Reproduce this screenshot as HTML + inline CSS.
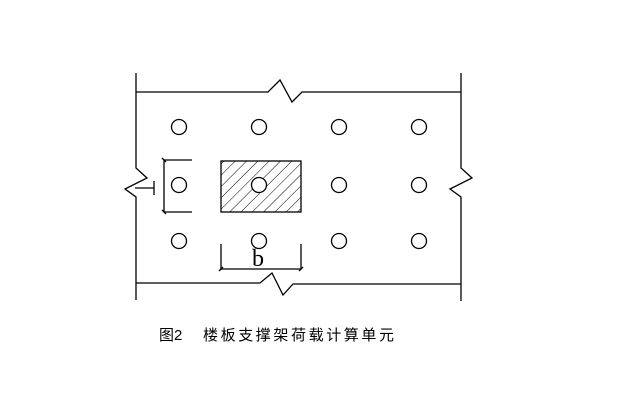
<!DOCTYPE html>
<html><head><meta charset="utf-8"><style>
html,body{margin:0;padding:0;background:#fff;width:644px;height:416px;overflow:hidden}
</style></head><body>
<svg width="644" height="416" viewBox="0 0 644 416" xmlns="http://www.w3.org/2000/svg">
<defs>
<pattern id="h" patternUnits="userSpaceOnUse" width="8" height="8" patternTransform="rotate(45)">
<line x1="0" y1="0" x2="0" y2="8" stroke="#000" stroke-width="1"/>
</pattern>
</defs>
<g stroke="#000" stroke-width="1.3" fill="none">
<polyline points="136,73 136,168 147,178 125,189 136,197 136,300"/>
<polyline points="461,73 461,168 472,178 450,189 461,197 461,301"/>
<polyline points="136,92 268,92 280,80 292,102 302,92 461,92"/>
<polyline points="136,283 260,283 272,273 283,295 293,284 461,284"/>
<rect x="221" y="161" width="80" height="51" fill="url(#h)"/>
<g fill="#fff">
<circle cx="179" cy="127" r="7.5"/><circle cx="259" cy="127" r="7.5"/><circle cx="339" cy="127" r="7.5"/><circle cx="419" cy="127" r="7.5"/>
<circle cx="179" cy="185" r="7.5"/><circle cx="259" cy="185" r="7.5"/><circle cx="339" cy="185" r="7.5"/><circle cx="419" cy="185" r="7.5"/>
<circle cx="179" cy="241" r="7.5"/><circle cx="259" cy="241" r="7.5"/><circle cx="339" cy="241" r="7.5"/><circle cx="419" cy="241" r="7.5"/>
</g>
<line x1="164" y1="160" x2="164" y2="212"/>
<line x1="164" y1="160" x2="192" y2="160"/>
<line x1="164" y1="212" x2="192" y2="212"/>
<line x1="162" y1="158" x2="166" y2="162"/>
<line x1="162" y1="210" x2="166" y2="214"/>
<line x1="135" y1="188" x2="154" y2="188"/>
<line x1="154" y1="181" x2="154" y2="195"/>
<line x1="221" y1="269" x2="301" y2="269"/>
<line x1="221" y1="244" x2="221" y2="269"/>
<line x1="301" y1="244" x2="301" y2="269"/>
<line x1="219" y1="271" x2="223" y2="267"/>
<line x1="299" y1="271" x2="303" y2="267"/>
</g>
<text x="258" y="266" font-family="Liberation Serif, serif" font-size="24" text-anchor="middle" fill="#000">b</text>
<text x="159" y="340" font-family="'Liberation Sans','Noto Sans CJK SC',sans-serif" font-size="15" fill="#000">图2</text>
<text x="203" y="340" font-family="'Liberation Sans','Noto Sans CJK SC',sans-serif" font-size="15" letter-spacing="2.6" fill="#000">楼板支撑架荷载计算单元</text>
</svg>
</body></html>
